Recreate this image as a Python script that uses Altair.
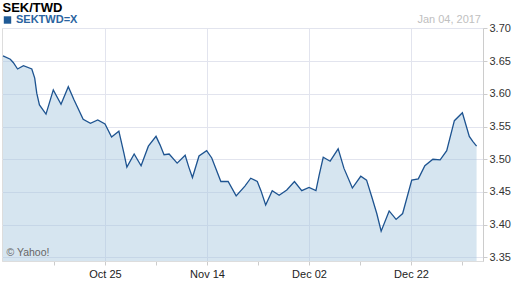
import altair as alt
import pandas as pd

# trading-day index (0 = Oct 05, 2016) and SEK/TWD rate
day = [0, 1, 1.4, 2, 2.8, 3.95, 4.35, 4.63, 5, 5.9, 6.9, 7.96, 8.96, 9.74, 11, 12, 13, 14,
       14.9, 15.9, 16.6, 17, 18, 18.95, 19.95, 21, 21.55, 22.1, 22.8, 23.9, 25, 25.5, 26,
       26.9, 27.95, 28.65, 29.9, 30.9, 32, 33.2, 34, 34.9, 35.4, 36.05, 36.95, 37.9, 38.95,
       40, 41, 42, 42.95, 43.4, 43.95, 44.9, 46, 46.8, 47.95, 49.1, 49.9, 50.6, 51.3, 51.9,
       53, 53.95, 54.85, 56.1, 57, 57.9, 59, 60, 60.9, 61.95, 63.05, 64, 64.5, 65]
rate = [3.658, 3.653, 3.648, 3.638, 3.643, 3.638, 3.624, 3.601, 3.583, 3.569, 3.606, 3.584,
        3.611, 3.591, 3.561, 3.555, 3.560, 3.554, 3.534, 3.543, 3.509, 3.488, 3.508, 3.490,
        3.520, 3.535, 3.522, 3.507, 3.508, 3.494, 3.506, 3.488, 3.472, 3.505, 3.513, 3.502,
        3.466, 3.466, 3.444, 3.459, 3.471, 3.466, 3.452, 3.430, 3.452, 3.445, 3.453, 3.466,
        3.452, 3.457, 3.452, 3.476, 3.503, 3.497, 3.516, 3.486, 3.456, 3.474, 3.468, 3.443,
        3.417, 3.390, 3.421, 3.408, 3.417, 3.468, 3.470, 3.490, 3.500, 3.499, 3.513, 3.559,
        3.571, 3.535, 3.527, 3.520]

tick_days = [7, 14, 21, 28, 35, 42, 49, 56, 63]
label_days = [14, 28, 42, 56]
label_text = ["Oct 25", "Nov 14", "Dec 02", "Dec 22"]
y_ticks = [3.35, 3.40, 3.45, 3.50, 3.55, 3.60, 3.65, 3.70]

series_name = "SEKTWD=X"
title_text = "SEK/TWD"
date_text = "Jan 04, 2017"
credit_text = "\u00a9 Yahoo!"

df = pd.DataFrame({"day": day, "rate": rate, "series": series_name})

FONT = "Liberation Sans"
GRID = "#e2e4ee"

label_expr = "".join(
    f"datum.value == {d} ? '{t}' : " for d, t in zip(label_days, label_text)
) + "''"
grid_test = " || ".join(f"datum.value == {d}" for d in label_days)

x_scale = alt.Scale(domain=[-0.14, 65.88], nice=False, zero=False)
y_scale = alt.Scale(domain=[3.3444, 3.7007], nice=False, zero=False)

x_axis = alt.Axis(
    values=tick_days, labelExpr=label_expr, title=None, labelFlush=False,
    labelOverlap=False, tickSize=4, tickColor="#cccccc", domainColor="#dddddd",
    labelColor="#222222", labelFontSize=11, labelFont=FONT, labelPadding=3,
    grid=True, gridColor=GRID,
    gridOpacity={"condition": {"test": grid_test, "value": 1}, "value": 0},
)
y_axis = alt.Axis(
    orient="right", values=y_ticks, format=".2f", title=None, tickSize=4,
    tickColor="#cccccc", domainColor="#cccccc", labelColor="#333333",
    labelFontSize=11, labelFont=FONT, labelPadding=2, labelOverlap=False,
    labelFlush=False, labelBound=False, grid=True, gridColor=GRID,
)

base = alt.Chart(df)

area = base.mark_area(color="#a4c6de", opacity=0.45, interpolate="linear").encode(
    x=alt.X("day:Q", scale=x_scale, axis=x_axis),
    y=alt.Y("rate:Q", scale=y_scale, axis=y_axis),
    y2=alt.datum(3.3444),
)

line = base.mark_line(strokeWidth=1.3, interpolate="linear").encode(
    x=alt.X("day:Q", scale=x_scale, axis=x_axis),
    y=alt.Y("rate:Q", scale=y_scale, axis=y_axis),
    color=alt.Color(
        "series:N",
        scale=alt.Scale(range=["#1d5390"]),
        legend=alt.Legend(
            orient="none", legendX=0, legendY=-13.5, title=None, symbolType="square",
            symbolSize=55, symbolFillColor="#1f5a96", symbolStrokeColor="#1f5a96",
            symbolStrokeWidth=0, labelFont=FONT, labelFontSize=11, labelFontWeight="bold",
            labelColor="#2a64a0", labelOffset=3, padding=0,
        ),
    ),
)

texts = alt.Chart(pd.DataFrame({"t": [date_text]})).mark_text(
    align="right", baseline="alphabetic", font=FONT, fontSize=11, color="#c0c0c0"
).encode(text="t:N", x=alt.value(479), y=alt.value(-5.5))

title = alt.Chart(pd.DataFrame({"t": [title_text]})).mark_text(
    align="left", baseline="alphabetic", font=FONT, fontSize=13, fontWeight="bold",
    color="#000000"
).encode(text="t:N", x=alt.value(0.5), y=alt.value(-16.5))

credit = alt.Chart(pd.DataFrame({"t": [credit_text]})).mark_text(
    align="left", baseline="alphabetic", font=FONT, fontSize=10.5, color="#666666"
).encode(text="t:N", x=alt.value(4.5), y=alt.value(228))

chart = alt.layer(area, line, texts, title, credit).properties(
    width=481, height=233,
    autosize=alt.AutoSizeParams(type="none"),
    padding={"left": 2, "top": 28, "right": 29, "bottom": 27},
).configure_view(stroke="#d9d9d9").configure(background="white")

chart.save("out.html", embed_options={"renderer": "svg", "actions": False})
